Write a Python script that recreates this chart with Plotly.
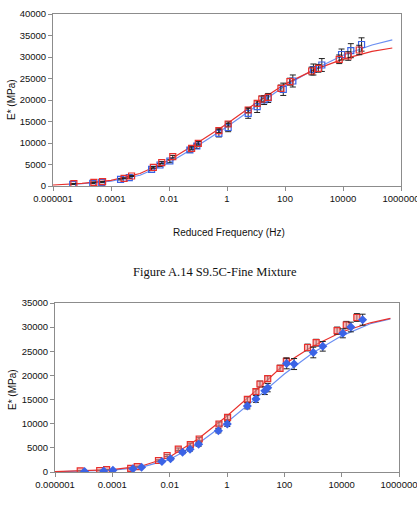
import plotly.graph_objects as go

# ---------------- data (log10 of reduced frequency, E* in MPa) ----------------
tick_vals = [1e-6, 1e-4, 1e-2, 1, 1e2, 1e4, 1e6]
tick_text = ["0.000001", "0.0001", "0.01", "1", "100", "10000", "1000000"]

# Top chart
top_red_logf = [-5.28, -4.59, -4.29, -3.55, -3.29, -2.54, -2.25, -1.87, -1.22, -0.99,
                -0.28, 0.04, 0.73, 1.04, 1.20, 1.42, 1.86, 2.17, 2.92, 3.15, 3.87, 4.18, 4.56]
top_red_E = [550, 860, 1000, 1790, 2330, 4350, 5420, 6810, 8770, 9930,
             12860, 14420, 17670, 19230, 20230, 20630, 22720, 24260, 26740, 27370, 29470, 30230, 31630]
top_red_err = [50, 60, 70, 100, 120, 200, 250, 300, 350, 400,
               450, 500, 600, 650, 700, 700, 750, 800, 900, 900, 1000, 1000, 1100]

top_blue_logf = [-5.32, -4.63, -4.32, -3.67, -3.37, -2.60, -2.31, -1.97, -1.28, -1.04,
                 -0.28, 0.04, 0.73, 1.04, 1.28, 1.42, 1.94, 2.27, 2.98, 3.27, 3.95, 4.27, 4.64]
top_blue_E = [400, 630, 860, 1560, 1930, 3880, 4880, 5810, 8370, 9300,
              12260, 13600, 16900, 18440, 20000, 20470, 22490, 24420, 27090, 28140, 30580, 31470, 32910]
top_blue_err = [60, 80, 100, 150, 180, 300, 350, 400, 500, 550,
                850, 970, 1160, 1350, 1050, 1050, 1430, 1400, 1280, 1500, 1280, 1630, 1550]

top_red_fit_logf = [-6, -5, -4, -3, -2, -1, 0, 1, 2, 3, 4, 5, 5.7]
top_red_fit_E = [230, 600, 1300, 2900, 6000, 10100, 14500, 19300, 23700, 27000, 29500, 31300, 32100]
top_blue_fit_logf = [-5.4, -5, -4, -3, -2, -1, 0, 1, 2, 3, 4, 5, 5.7]
top_blue_fit_E = [400, 520, 1100, 2500, 5400, 9400, 13800, 18600, 23300, 27100, 30400, 32800, 34000]

# Bottom chart
bot_red_logf = [-5.12, -4.44, -4.20, -3.36, -3.13, -2.39, -2.09, -1.70, -1.28, -0.97,
                -0.28, 0.02, 0.71, 1.01, 1.15, 1.42, 1.85, 2.07, 2.81, 3.11, 3.84, 4.16, 4.53]
bot_red_E = [250, 310, 480, 770, 1100, 2380, 3420, 4720, 5670, 6830,
             9940, 11330, 15050, 16630, 18220, 19320, 21470, 22920, 25780, 26780, 29260, 30440, 32000]
bot_red_err = [40, 50, 60, 80, 100, 150, 200, 250, 300, 350,
               400, 450, 500, 550, 600, 600, 650, 700, 700, 700, 750, 750, 800]

bot_blue_logf = [-4.97, -4.30, -3.98, -3.28, -2.98, -2.27, -1.97, -1.55, -1.29, -0.99,
                 -0.30, 0.01, 0.71, 1.01, 1.32, 1.42, 2.08, 2.34, 3.01, 3.34, 4.04, 4.32, 4.73]
bot_blue_E = [100, 210, 370, 660, 990, 2170, 2750, 4100, 4700, 5740,
              8550, 9940, 13670, 15120, 16840, 17460, 22470, 22360, 24750, 26030, 28720, 30030, 31540]
bot_blue_err = [40, 50, 60, 80, 100, 200, 250, 300, 350, 400,
                450, 500, 600, 700, 800, 850, 1100, 1140, 1100, 1000, 930, 1000, 1140]

bot_red_fit_logf = [-6, -5, -4, -3, -2, -1, 0, 1, 2, 3, 4, 5, 5.7]
bot_red_fit_E = [80, 230, 500, 1200, 3100, 6900, 11600, 16800, 22300, 26100, 29000, 30900, 31800]
bot_blue_fit_logf = [-6, -5, -4, -3, -2, -1, 0, 1, 2, 3, 4, 5, 5.7]
bot_blue_fit_E = [50, 150, 380, 950, 2600, 5900, 10300, 15200, 20300, 24700, 28200, 30700, 31700]

caption = "Figure A.14 S9.5C-Fine Mixture"
x_title = "Reduced Frequency (Hz)"
y_title = "E* (MPa)"

# ---------------- figure ----------------
RED = "#e8302c"
BLUE_LINE = "#6b8ff2"
BLUE = "#3b63e6"


def f(logs):
    return [10 ** v for v in logs]


fig = go.Figure()

# top chart
fig.add_trace(go.Scatter(x=f(top_blue_fit_logf), y=top_blue_fit_E, mode="lines",
                         line=dict(color=BLUE_LINE, width=1.2), xaxis="x", yaxis="y"))
fig.add_trace(go.Scatter(x=f(top_red_fit_logf), y=top_red_fit_E, mode="lines",
                         line=dict(color=RED, width=1.2), xaxis="x", yaxis="y"))
fig.add_trace(go.Scatter(x=f(top_blue_logf), y=top_blue_E, mode="markers",
                         marker=dict(symbol="square-open", size=6, color=BLUE, line=dict(width=1.2)),
                         error_y=dict(type="data", array=top_blue_err, color="#222222", thickness=1, width=3),
                         xaxis="x", yaxis="y"))
fig.add_trace(go.Scatter(x=f(top_red_logf), y=top_red_E, mode="markers",
                         marker=dict(symbol="square-open", size=6, color=RED, line=dict(width=1.2)),
                         error_y=dict(type="data", array=top_red_err, color="#222222", thickness=1, width=3),
                         xaxis="x", yaxis="y"))

# bottom chart
fig.add_trace(go.Scatter(x=f(bot_blue_fit_logf), y=bot_blue_fit_E, mode="lines",
                         line=dict(color=BLUE_LINE, width=1.2), xaxis="x2", yaxis="y2"))
fig.add_trace(go.Scatter(x=f(bot_red_fit_logf), y=bot_red_fit_E, mode="lines",
                         line=dict(color=RED, width=1.2), xaxis="x2", yaxis="y2"))
fig.add_trace(go.Scatter(x=f(bot_red_logf), y=bot_red_E, mode="markers",
                         marker=dict(symbol="square", size=6, color="rgba(240,140,140,0.6)",
                                     line=dict(width=1.2, color=RED)),
                         error_y=dict(type="data", array=bot_red_err, color="#222222", thickness=1, width=3),
                         xaxis="x2", yaxis="y2"))
fig.add_trace(go.Scatter(x=f(bot_blue_logf), y=bot_blue_E, mode="markers",
                         marker=dict(symbol="diamond", size=7, color=BLUE, line=dict(width=0)),
                         error_y=dict(type="data", array=bot_blue_err, color="#222222", thickness=1, width=3),
                         xaxis="x2", yaxis="y2"))

tickfont = dict(family="Liberation Sans, Arial", size=9.5, color="#111111")
xcommon = dict(type="log", range=[-6, 6], tickvals=tick_vals, ticktext=tick_text,
               showgrid=False, zeroline=False, showline=True, linecolor="#8c8c8c", linewidth=1,
               mirror=True, ticks="outside", ticklen=4, tickcolor="#8c8c8c", tickfont=tickfont,
               ticklabeloverflow="allow", automargin=False)
ycommon = dict(showgrid=False, zeroline=False, showline=True, linecolor="#8c8c8c", linewidth=1,
               mirror=True, ticks="outside", ticklen=4, tickcolor="#8c8c8c", tickfont=tickfont,
               tickformat="d", automargin=False)

W, H = 417, 508
afont = dict(family="Liberation Sans, Arial", size=10, color="#111111")
fig.update_layout(
    template="none",
    width=W, height=H, margin=dict(l=0, r=0, t=0, b=0, pad=0, autoexpand=False),
    paper_bgcolor="white", plot_bgcolor="white", showlegend=False,
    xaxis=dict(domain=[53 / W, 401 / W], anchor="y", **xcommon),
    yaxis=dict(domain=[1 - 186 / H, 1 - 14 / H], range=[0, 40000], dtick=5000, anchor="x", **ycommon),
    xaxis2=dict(domain=[55 / W, 399 / W], anchor="y2", **xcommon),
    yaxis2=dict(domain=[1 - 472 / H, 1 - 303 / H], range=[0, 35000], dtick=5000, anchor="x2", **ycommon),
    annotations=[
        dict(text=x_title, x=229 / W, y=1 - 232 / H, xref="paper", yref="paper", showarrow=False,
             xanchor="center", yanchor="middle", font=afont),
        dict(text=caption, x=215 / W, y=1 - 272 / H, xref="paper", yref="paper", showarrow=False,
             xanchor="center", yanchor="middle",
             font=dict(family="Liberation Serif, Times New Roman", size=12.5, color="#111111")),
        dict(text=y_title, x=12 / W, y=1 - 100 / H, xref="paper", yref="paper", showarrow=False,
             xanchor="center", yanchor="middle", textangle=-90, font=afont),
        dict(text=y_title, x=12 / W, y=1 - 390 / H, xref="paper", yref="paper", showarrow=False,
             xanchor="center", yanchor="middle", textangle=-90, font=afont),
    ],
)

fig.write_html("out.html")
